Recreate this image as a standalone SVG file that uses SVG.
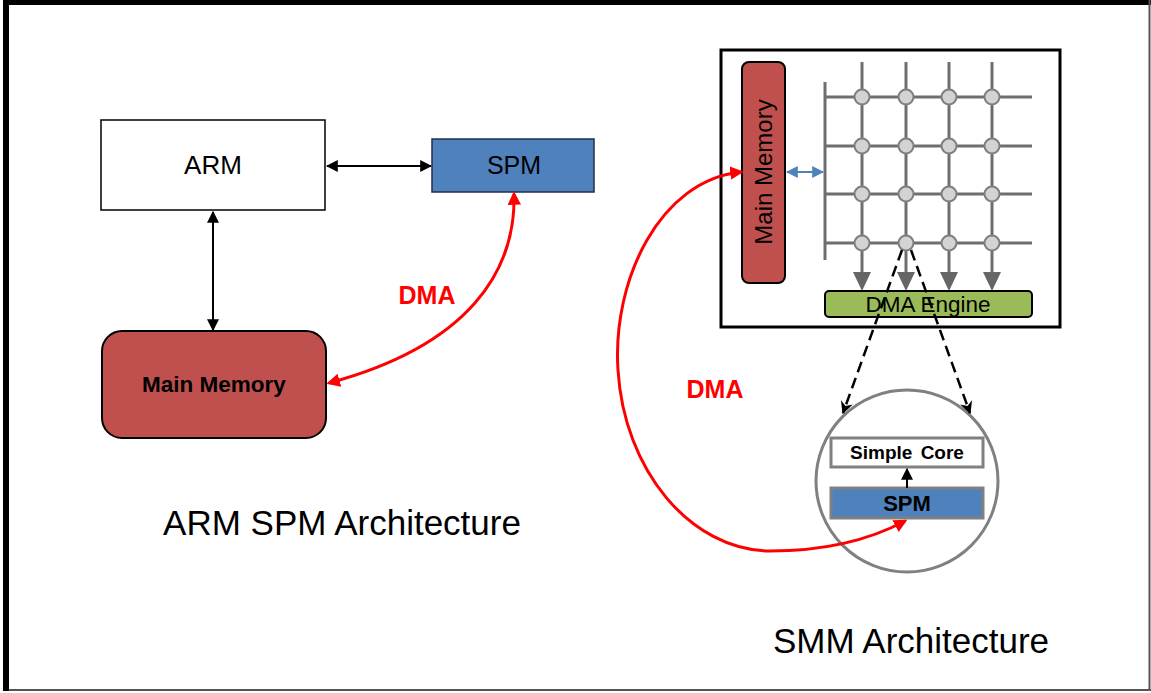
<svg xmlns="http://www.w3.org/2000/svg" width="1151" height="693" viewBox="0 0 1151 693">
<style>
text{font-family:"Liberation Sans",Arial,sans-serif;fill:#000}
.b{font-weight:bold}
.red{fill:#FF0000}
.conn{fill:none}
.blk{stroke:#000;stroke-width:2}
.rd{stroke:#FF0000;stroke-width:3}
.grid{stroke:#6E6E6E;stroke-width:3;fill:none}
.nd{fill:#D3D3D3;stroke:#7F7F7F;stroke-width:2}
</style>
<defs>
<marker id="ab" viewBox="0 0 10 10" refX="9" refY="5" markerWidth="6" markerHeight="6" markerUnits="strokeWidth" orient="auto-start-reverse"><path d="M0,0 L10,5 L0,10 z" fill="#000"/></marker>
<marker id="ar" viewBox="0 0 10 10" refX="8" refY="5" markerWidth="4.5" markerHeight="4.5" markerUnits="strokeWidth" orient="auto-start-reverse"><path d="M0,0 L10,5 L0,10 z" fill="#FF0000"/></marker>
<marker id="abl" viewBox="0 0 10 10" refX="9" refY="5" markerWidth="6" markerHeight="6" markerUnits="strokeWidth" orient="auto-start-reverse"><path d="M0,0 L10,5 L0,10 z" fill="#4F81BD"/></marker>
<marker id="ad" viewBox="0 0 10 10" refX="9" refY="5" markerWidth="5" markerHeight="5" markerUnits="strokeWidth" orient="auto"><path d="M0,0 L10,5 L0,10 L3,5 z" fill="#000"/></marker>
</defs>
<rect x="0" y="0" width="1151" height="693" fill="#fff"/>
<!-- frame -->
<rect x="3" y="0" width="1148" height="5" fill="#000"/>
<rect x="3" y="0" width="6" height="691" fill="#000"/>
<line x1="1149.5" y1="0" x2="1149.5" y2="691" stroke="#555" stroke-width="2"/>
<line x1="9" y1="690" x2="1151" y2="690" stroke="#555" stroke-width="2"/>

<g id="arm">
<rect x="101" y="120" width="224" height="90" fill="#fff" stroke="#000" stroke-width="1.5"/>
<text x="213" y="174" font-size="26" text-anchor="middle">ARM</text>
</g>
<g id="spm-left">
<rect x="432" y="139" width="162" height="53" fill="#4F81BD" stroke="#1F2F4F" stroke-width="1.5"/>
<text x="514" y="174" font-size="25" text-anchor="middle">SPM</text>
</g>
<g id="main-memory-left">
<rect x="102" y="331" width="224" height="107" rx="20" fill="#C0504D" stroke="#000" stroke-width="2"/>
<text x="214" y="392" font-size="22.5" class="b" text-anchor="middle">Main Memory</text>
</g>
<text x="427" y="304" font-size="25" class="b red" text-anchor="middle">DMA</text>
<text x="342" y="535" font-size="35" text-anchor="middle">ARM SPM Architecture</text>

<g id="smm-frame">
<rect x="721" y="50" width="339" height="277" fill="#fff" stroke="#000" stroke-width="3"/>
</g>
<g id="main-memory-right">
<rect x="742" y="62" width="43" height="221" rx="7" fill="#C0504D" stroke="#000" stroke-width="2"/>
<text transform="translate(772,172) rotate(-90)" font-size="24" text-anchor="middle">Main Memory</text>
</g>
<g id="mesh">
<line x1="825" y1="82" x2="825" y2="260" class="grid"/>
<line x1="825" y1="97" x2="1032" y2="97" class="grid"/>
<line x1="825" y1="146" x2="1032" y2="146" class="grid"/>
<line x1="825" y1="194" x2="1032" y2="194" class="grid"/>
<line x1="825" y1="243" x2="1032" y2="243" class="grid"/>
<line x1="862" y1="62" x2="862" y2="274" class="grid"/>
<line x1="906" y1="62" x2="906" y2="274" class="grid"/>
<line x1="949" y1="62" x2="949" y2="274" class="grid"/>
<line x1="992" y1="62" x2="992" y2="274" class="grid"/>
<g fill="#666">
<path d="M853,272 L871,272 L862,291 z"/>
<path d="M897,272 L915,272 L906,291 z"/>
<path d="M940,272 L958,272 L949,291 z"/>
<path d="M983,272 L1001,272 L992,291 z"/>
</g>
<g class="nd">
<circle cx="862" cy="97" r="7.5"/><circle cx="906" cy="97" r="7.5"/><circle cx="949" cy="97" r="7.5"/><circle cx="992" cy="97" r="7.5"/>
<circle cx="862" cy="146" r="7.5"/><circle cx="906" cy="146" r="7.5"/><circle cx="949" cy="146" r="7.5"/><circle cx="992" cy="146" r="7.5"/>
<circle cx="862" cy="194" r="7.5"/><circle cx="906" cy="194" r="7.5"/><circle cx="949" cy="194" r="7.5"/><circle cx="992" cy="194" r="7.5"/>
<circle cx="862" cy="243" r="7.5"/><circle cx="906" cy="243" r="7.5"/><circle cx="949" cy="243" r="7.5"/><circle cx="992" cy="243" r="7.5"/>
</g>
</g>
<g id="dma-engine">
<rect x="825" y="291" width="207" height="26" rx="4" fill="#9BBB59" stroke="#000" stroke-width="2"/>
<text x="928" y="312" font-size="22.5" text-anchor="middle">DMA Engine</text>
</g>
<g id="zoom-circle">
<circle cx="907" cy="481" r="91" fill="#fff" stroke="#808080" stroke-width="3"/>
</g>
<g id="simple-core">
<rect x="831" y="438" width="152" height="29" fill="#fff" stroke="#808080" stroke-width="3"/>
<text x="907" y="459" font-size="19" class="b" text-anchor="middle" word-spacing="3">Simple Core</text>
</g>
<g id="spm-right">
<rect x="831" y="488" width="152" height="30" fill="#4F81BD" stroke="#808080" stroke-width="3"/>
<text x="907" y="511" font-size="22" class="b" text-anchor="middle">SPM</text>
</g>
<text x="715" y="398" font-size="25" class="b red" text-anchor="middle">DMA</text>
<text x="911" y="653" font-size="35" text-anchor="middle">SMM Architecture</text>

<g id="connectors">
<line x1="327" y1="166" x2="431" y2="166" class="conn blk" marker-start="url(#ab)" marker-end="url(#ab)"/>
<line x1="213" y1="212" x2="213" y2="330" class="conn blk" marker-start="url(#ab)" marker-end="url(#ab)"/>
<path d="M329,383 C470,345 516,270 514,194" class="conn rd" marker-start="url(#ar)" marker-end="url(#ar)"/>
<line x1="787" y1="172" x2="823" y2="172" stroke="#4F81BD" stroke-width="2" marker-start="url(#abl)" marker-end="url(#abl)"/>
<path d="M741,172 C660,180 612,280 618,370 C624,470 690,550 770,551 C830,551 875,537 905,521" class="conn rd" marker-start="url(#ar)" marker-end="url(#ar)"/>
<line x1="902" y1="250" x2="843" y2="413" class="conn" stroke="#000" stroke-width="2.5" stroke-dasharray="11,6" marker-end="url(#ad)"/>
<line x1="911" y1="250" x2="970" y2="413" class="conn" stroke="#000" stroke-width="2.5" stroke-dasharray="11,6" marker-end="url(#ad)"/>
<line x1="907" y1="488" x2="907" y2="469" class="conn blk" marker-end="url(#ab)"/>
</g>
</svg>
